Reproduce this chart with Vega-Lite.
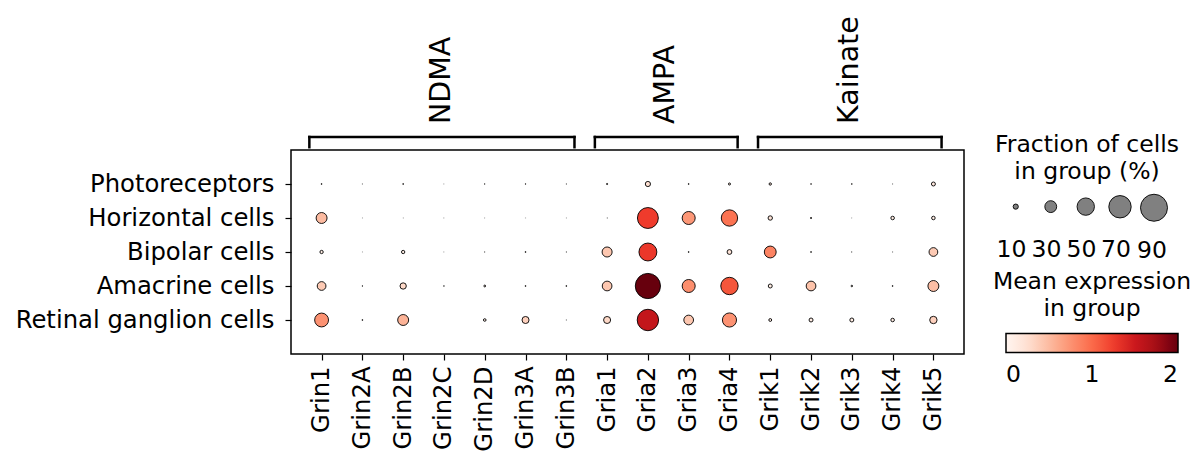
{
  "$schema": "https://vega.github.io/schema/vega-lite/v6.json",
  "background": "white",
  "padding": {"left": 14, "top": 16, "right": 5, "bottom": 5},
  "config": {
    "font": "DejaVu Sans",
    "view": {"stroke": "black", "strokeWidth": 1.5},
    "axis": {"labelFont": "DejaVu Sans", "labelColor": "black", "tickColor": "black", "grid": false, "domain": false, "labelLimit": 0},
    "legend": {"labelFont": "DejaVu Sans", "titleFont": "DejaVu Sans", "padding": 0, "titleLimit": 0, "labelLimit": 0}
  },
  "spacing": 0,
  "vconcat": [
    {
      "width": 673,
      "height": 12,
      "view": {"stroke": null},
      "data": {"values": [
        {"group": "NDMA", "start": -0.3, "end": 6.2, "center": 3},
        {"group": "AMPA", "start": 6.7, "end": 10.2, "center": 8.5},
        {"group": "Kainate", "start": 10.7, "end": 15.2, "center": 13}
      ]},
      "layer": [
        {
          "mark": {"type": "rule", "strokeWidth": 2.5, "color": "black", "strokeCap": "square"},
          "encoding": {
            "x": {"field": "start", "type": "quantitative", "scale": {"domain": [-0.75, 15.75], "nice": false, "zero": false}, "axis": null},
            "x2": {"field": "end"},
            "y": {"datum": 1, "type": "quantitative", "scale": {"domain": [0, 1], "nice": false, "zero": false}, "axis": null}
          }
        },
        {
          "mark": {"type": "rule", "strokeWidth": 2.5, "color": "black", "strokeCap": "square"},
          "encoding": {
            "x": {"field": "start", "type": "quantitative", "axis": null},
            "y": {"datum": 1, "type": "quantitative", "axis": null},
            "y2": {"datum": 0.15}
          }
        },
        {
          "mark": {"type": "rule", "strokeWidth": 2.5, "color": "black", "strokeCap": "square"},
          "encoding": {
            "x": {"field": "end", "type": "quantitative", "axis": null},
            "y": {"datum": 1, "type": "quantitative", "axis": null},
            "y2": {"datum": 0.15}
          }
        },
        {
          "mark": {"type": "text", "angle": 270, "align": "left", "baseline": "middle", "dx": 13, "dy": -3, "fontSize": 28.5, "color": "black"},
          "encoding": {
            "x": {"field": "center", "type": "quantitative", "axis": null},
            "y": {"datum": 1, "type": "quantitative", "axis": null},
            "text": {"field": "group"}
          }
        }
      ]
    },
    {
      "width": 673,
      "height": 204,
      "data": {"values": [
        {"cell": "Photoreceptors", "gene": "Grin1", "frac": 1, "expr": 0.1},
        {"cell": "Photoreceptors", "gene": "Grin2A", "frac": 0.2, "expr": 0.02},
        {"cell": "Photoreceptors", "gene": "Grin2B", "frac": 1, "expr": 0.1},
        {"cell": "Photoreceptors", "gene": "Grin2C", "frac": 0.1, "expr": 0.02},
        {"cell": "Photoreceptors", "gene": "Grin2D", "frac": 0.5, "expr": 0.05},
        {"cell": "Photoreceptors", "gene": "Grin3A", "frac": 0.6, "expr": 0.05},
        {"cell": "Photoreceptors", "gene": "Grin3B", "frac": 0.3, "expr": 0.03},
        {"cell": "Photoreceptors", "gene": "Gria1", "frac": 1.5, "expr": 0.1},
        {"cell": "Photoreceptors", "gene": "Gria2", "frac": 10, "expr": 0.25},
        {"cell": "Photoreceptors", "gene": "Gria3", "frac": 1, "expr": 0.1},
        {"cell": "Photoreceptors", "gene": "Gria4", "frac": 3, "expr": 0.15},
        {"cell": "Photoreceptors", "gene": "Grik1", "frac": 3.5, "expr": 0.15},
        {"cell": "Photoreceptors", "gene": "Grik2", "frac": 0.8, "expr": 0.1},
        {"cell": "Photoreceptors", "gene": "Grik3", "frac": 0.8, "expr": 0.1},
        {"cell": "Photoreceptors", "gene": "Grik4", "frac": 0.2, "expr": 0.02},
        {"cell": "Photoreceptors", "gene": "Grik5", "frac": 7, "expr": 0.15},
        {"cell": "Horizontal cells", "gene": "Grin1", "frac": 27, "expr": 0.5},
        {"cell": "Horizontal cells", "gene": "Grin2A", "frac": 0.1, "expr": 0.02},
        {"cell": "Horizontal cells", "gene": "Grin2B", "frac": 0.1, "expr": 0.02},
        {"cell": "Horizontal cells", "gene": "Grin2C", "frac": 0.1, "expr": 0.02},
        {"cell": "Horizontal cells", "gene": "Grin2D", "frac": 0.1, "expr": 0.02},
        {"cell": "Horizontal cells", "gene": "Grin3A", "frac": 0.1, "expr": 0.02},
        {"cell": "Horizontal cells", "gene": "Grin3B", "frac": 0.1, "expr": 0.02},
        {"cell": "Horizontal cells", "gene": "Gria1", "frac": 0.2, "expr": 0.02},
        {"cell": "Horizontal cells", "gene": "Gria2", "frac": 64, "expr": 1.25},
        {"cell": "Horizontal cells", "gene": "Gria3", "frac": 34, "expr": 0.72},
        {"cell": "Horizontal cells", "gene": "Gria4", "frac": 46, "expr": 0.95},
        {"cell": "Horizontal cells", "gene": "Grik1", "frac": 8, "expr": 0.2},
        {"cell": "Horizontal cells", "gene": "Grik2", "frac": 1.5, "expr": 0.1},
        {"cell": "Horizontal cells", "gene": "Grik3", "frac": 0.1, "expr": 0.02},
        {"cell": "Horizontal cells", "gene": "Grik4", "frac": 6, "expr": 0.1},
        {"cell": "Horizontal cells", "gene": "Grik5", "frac": 6, "expr": 0.1},
        {"cell": "Bipolar cells", "gene": "Grin1", "frac": 5.5, "expr": 0.1},
        {"cell": "Bipolar cells", "gene": "Grin2A", "frac": 0.1, "expr": 0.02},
        {"cell": "Bipolar cells", "gene": "Grin2B", "frac": 5.5, "expr": 0.1},
        {"cell": "Bipolar cells", "gene": "Grin2C", "frac": 0.1, "expr": 0.02},
        {"cell": "Bipolar cells", "gene": "Grin2D", "frac": 0.3, "expr": 0.03},
        {"cell": "Bipolar cells", "gene": "Grin3A", "frac": 1, "expr": 0.1},
        {"cell": "Bipolar cells", "gene": "Grin3B", "frac": 0.3, "expr": 0.03},
        {"cell": "Bipolar cells", "gene": "Gria1", "frac": 24, "expr": 0.42},
        {"cell": "Bipolar cells", "gene": "Gria2", "frac": 52, "expr": 1.28},
        {"cell": "Bipolar cells", "gene": "Gria3", "frac": 1, "expr": 0.1},
        {"cell": "Bipolar cells", "gene": "Gria4", "frac": 9, "expr": 0.2},
        {"cell": "Bipolar cells", "gene": "Grik1", "frac": 30, "expr": 0.85},
        {"cell": "Bipolar cells", "gene": "Grik2", "frac": 1, "expr": 0.1},
        {"cell": "Bipolar cells", "gene": "Grik3", "frac": 0.3, "expr": 0.03},
        {"cell": "Bipolar cells", "gene": "Grik4", "frac": 0.2, "expr": 0.02},
        {"cell": "Bipolar cells", "gene": "Grik5", "frac": 20, "expr": 0.4},
        {"cell": "Amacrine cells", "gene": "Grin1", "frac": 20, "expr": 0.4},
        {"cell": "Amacrine cells", "gene": "Grin2A", "frac": 0.6, "expr": 0.05},
        {"cell": "Amacrine cells", "gene": "Grin2B", "frac": 13, "expr": 0.3},
        {"cell": "Amacrine cells", "gene": "Grin2C", "frac": 0.6, "expr": 0.05},
        {"cell": "Amacrine cells", "gene": "Grin2D", "frac": 2.5, "expr": 0.1},
        {"cell": "Amacrine cells", "gene": "Grin3A", "frac": 1, "expr": 0.1},
        {"cell": "Amacrine cells", "gene": "Grin3B", "frac": 1, "expr": 0.1},
        {"cell": "Amacrine cells", "gene": "Gria1", "frac": 23, "expr": 0.42},
        {"cell": "Amacrine cells", "gene": "Gria2", "frac": 82, "expr": 2.0},
        {"cell": "Amacrine cells", "gene": "Gria3", "frac": 34, "expr": 0.78},
        {"cell": "Amacrine cells", "gene": "Gria4", "frac": 50, "expr": 1.12},
        {"cell": "Amacrine cells", "gene": "Grik1", "frac": 7, "expr": 0.1},
        {"cell": "Amacrine cells", "gene": "Grik2", "frac": 23, "expr": 0.45},
        {"cell": "Amacrine cells", "gene": "Grik3", "frac": 2, "expr": 0.1},
        {"cell": "Amacrine cells", "gene": "Grik4", "frac": 1, "expr": 0.1},
        {"cell": "Amacrine cells", "gene": "Grik5", "frac": 27, "expr": 0.48},
        {"cell": "Retinal ganglion cells", "gene": "Grin1", "frac": 37, "expr": 0.75},
        {"cell": "Retinal ganglion cells", "gene": "Grin2A", "frac": 1, "expr": 0.1},
        {"cell": "Retinal ganglion cells", "gene": "Grin2B", "frac": 27, "expr": 0.55},
        {"cell": "Retinal ganglion cells", "gene": "Grin2C", "frac": 0, "expr": 0},
        {"cell": "Retinal ganglion cells", "gene": "Grin2D", "frac": 4, "expr": 0.1},
        {"cell": "Retinal ganglion cells", "gene": "Grin3A", "frac": 15, "expr": 0.35},
        {"cell": "Retinal ganglion cells", "gene": "Grin3B", "frac": 0.2, "expr": 0.02},
        {"cell": "Retinal ganglion cells", "gene": "Gria1", "frac": 15, "expr": 0.3},
        {"cell": "Retinal ganglion cells", "gene": "Gria2", "frac": 66, "expr": 1.55},
        {"cell": "Retinal ganglion cells", "gene": "Gria3", "frac": 23, "expr": 0.42},
        {"cell": "Retinal ganglion cells", "gene": "Gria4", "frac": 38, "expr": 0.75},
        {"cell": "Retinal ganglion cells", "gene": "Grik1", "frac": 4.5, "expr": 0.1},
        {"cell": "Retinal ganglion cells", "gene": "Grik2", "frac": 7, "expr": 0.1},
        {"cell": "Retinal ganglion cells", "gene": "Grik3", "frac": 7, "expr": 0.1},
        {"cell": "Retinal ganglion cells", "gene": "Grik4", "frac": 6, "expr": 0.1},
        {"cell": "Retinal ganglion cells", "gene": "Grik5", "frac": 16, "expr": 0.35}
      ]},
      "mark": {"type": "circle", "opacity": 1, "stroke": "black", "strokeWidth": 0.9},
      "encoding": {
        "x": {
          "field": "gene", "type": "nominal", "sort": null,
          "scale": {"type": "point", "padding": 0.75},
          "axis": {"title": null, "labelAngle": 270, "labelAlign": "right", "labelBaseline": "middle", "labelFontSize": 24.3, "tickSize": 6, "tickWidth": 1.2, "labelPadding": 6}
        },
        "y": {
          "field": "cell", "type": "nominal", "sort": null,
          "scale": {"type": "point", "padding": 1},
          "axis": {"title": null, "labelFontSize": 24.3, "tickSize": 6, "tickWidth": 1.2, "labelPadding": 11}
        },
        "size": {
          "field": "frac", "type": "quantitative",
          "scale": {"type": "pow", "exponent": 1.5, "domain": [0, 90], "range": [0, 730], "zero": true, "nice": false},
          "legend": {
            "orient": "none", "legendX": 704, "legendY": -4, "direction": "horizontal",
            "values": [10, 30, 50, 70, 90],
            "title": ["Fraction of cells", "in group (%)"],
            "titleFontSize": 23.5, "titleFontWeight": "normal", "titleColor": "black",
            "titleAnchor": "middle", "titleAlign": "center", "titleLineHeight": 27, "titlePadding": 10,
            "symbolFillColor": "#808080", "symbolStrokeColor": "black", "symbolStrokeWidth": 0.9, "symbolOpacity": 1,
            "labelFontSize": 23.5, "labelColor": "black", "labelAlign": "center", "labelOffset": -16,
            "columnPadding": 4,
            "encode": {"labels": {"update": {"dy": {"value": 43}}}}
          }
        },
        "color": {
          "field": "expr", "type": "quantitative",
          "scale": {
            "domain": [0, 0.25, 0.5, 0.75, 1, 1.25, 1.5, 1.75, 2],
            "range": ["#fff5f0", "#fee0d2", "#fcbba1", "#fc9272", "#fb6a4a", "#ef3b2c", "#cb181d", "#a50f15", "#67000d"]
          },
          "legend": {
            "orient": "none", "legendX": 702, "legendY": 133, "direction": "horizontal",
            "title": ["Mean expression", "in group"],
            "titleFontSize": 23.5, "titleFontWeight": "normal", "titleColor": "black",
            "titleAnchor": "middle", "titleAlign": "center", "titleLineHeight": 27, "titlePadding": 13,
            "gradientLength": 172, "gradientThickness": 19, "gradientStrokeColor": "black", "gradientStrokeWidth": 1.5,
            "values": [0, 1, 2], "labelFontSize": 23.5, "labelColor": "black", "labelAlign": "center", "labelOffset": 10
          }
        }
      }
    }
  ]
}
